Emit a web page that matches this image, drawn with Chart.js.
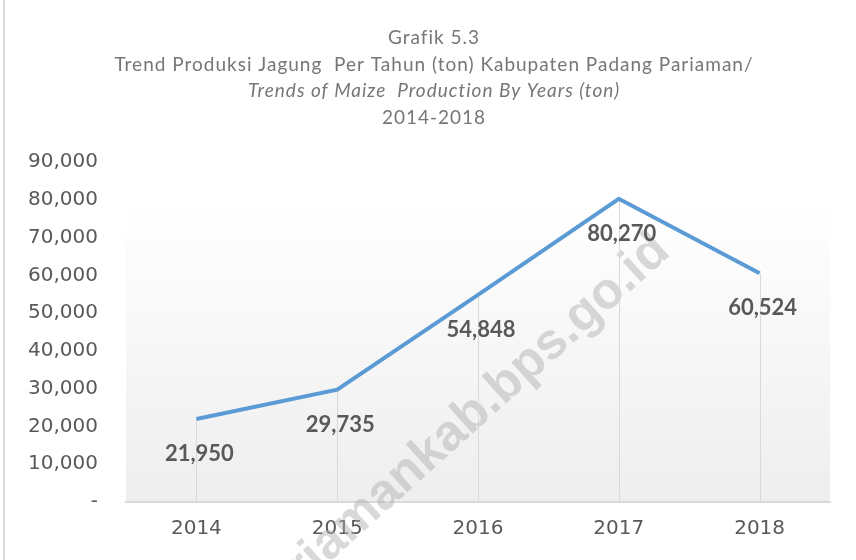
<!DOCTYPE html>
<html>
<head>
    <meta charset="UTF-8">
    <title>Grafik 5.3</title>
    <script src="https://cdn.jsdelivr.net/npm/chart.js"></script>
    <style>
        html, body { margin: 0; padding: 0; background: #fff; }
        #wrap { width: 856px; height: 560px; }
    </style>
</head>
<body>
    <div id="wrap"><canvas id="grafik"></canvas></div>

    <script>
        const tahun = ["2014", "2015", "2016", "2017", "2018"];
        const produksi = [21950, 29735, 54848, 80270, 60524];
        const judul = [
            { teks: "Grafik 5.3", miring: false },
            { teks: "Trend Produksi Jagung  Per Tahun (ton) Kabupaten Padang Pariaman/", miring: false },
            { teks: "Trends of Maize  Production By Years (ton)", miring: true },
            { teks: "2014-2018", miring: false }
        ];
        const watermark = "padangpariamankab.bps.go.id";

        const abu = "#595959";

        // latar area plot, garis border kiri, judul, watermark
        const latarPlugin = {
            id: "latar",
            beforeDraw(chart) {
                const { ctx, chartArea: a } = chart;
                ctx.save();
                const g = ctx.createLinearGradient(0, a.top, 0, a.bottom);
                g.addColorStop(0, "#ffffff");
                g.addColorStop(0.12, "#ffffff");
                g.addColorStop(1, "#eeeeee");
                ctx.fillStyle = g;
                ctx.fillRect(a.left, a.top, a.right - a.left, a.bottom - a.top);

                ctx.strokeStyle = "#d9d9d9";
                ctx.lineWidth = 2;
                ctx.beginPath();
                ctx.moveTo(4, 0);
                ctx.lineTo(4, chart.height);
                ctx.stroke();

                ctx.fillStyle = "#767676";
                ctx.textAlign = "center";
                ctx.textBaseline = "middle";
                ctx.letterSpacing = "1px";
                judul.forEach((j, i) => {
                    ctx.font = (j.miring ? "italic " : "") + "19px Lato";
                    ctx.fillText(j.teks, 434, 38 + i * 26.5);
                });
                ctx.restore();
            },
            beforeDatasetsDraw(chart) {
                const { ctx, chartArea: a } = chart;
                ctx.save();
                ctx.translate(672, 254);
                ctx.rotate(-42 * Math.PI / 180);
                ctx.fillStyle = "rgba(170,170,170,0.45)";
                ctx.font = "bold 51px 'Liberation Sans'";
                ctx.textAlign = "right";
                ctx.textBaseline = "alphabetic";
                ctx.fillText(watermark, 0, 0);
                ctx.restore();

                // garis vertikal dari titik ke sumbu
                const meta = chart.getDatasetMeta(0);
                ctx.save();
                ctx.strokeStyle = "#d9d9d9";
                ctx.lineWidth = 1;
                meta.data.forEach(p => {
                    ctx.beginPath();
                    ctx.moveTo(Math.round(p.x) + 0.5, p.y);
                    ctx.lineTo(Math.round(p.x) + 0.5, a.bottom);
                    ctx.stroke();
                });
                ctx.restore();
            },
            afterDatasetsDraw(chart) {
                const { ctx } = chart;
                const meta = chart.getDatasetMeta(0);
                ctx.save();
                ctx.fillStyle = abu;
                ctx.font = "bold 22px Lato";
                ctx.textAlign = "center";
                ctx.textBaseline = "middle";
                meta.data.forEach((p, i) => {
                    ctx.fillText(produksi[i].toLocaleString("en-US"), p.x + 3, p.y + 35);
                });
                ctx.restore();
            }
        };

        new Chart(document.getElementById("grafik"), {
            type: "line",
            data: {
                labels: tahun,
                datasets: [{
                    data: produksi,
                    borderColor: "#5b9bd5",
                    borderWidth: 4,
                    pointRadius: 0,
                    tension: 0,
                    fill: false
                }]
            },
            options: {
                responsive: true,
                maintainAspectRatio: false,
                animation: false,
                layout: { padding: { top: 162, right: 26, left: 0, bottom: 0 } },
                plugins: {
                    legend: { display: false },
                    title: { display: false },
                    tooltip: { enabled: false }
                },
                scales: {
                    x: {
                        offset: true,
                        grid: { display: false, drawTicks: false },
                        border: { color: "#d9d9d9", width: 2 },
                        ticks: {
                            color: abu,
                            font: { family: "DejaVu Sans", size: 20 },
                            padding: 15
                        },
                        afterFit(s) { s.height = 58; }
                    },
                    y: {
                        min: 0,
                        max: 90000,
                        grid: { display: false, drawTicks: false },
                        border: { display: false },
                        ticks: {
                            stepSize: 10000,
                            color: abu,
                            font: { family: "DejaVu Sans", size: 20 },
                            padding: 28,
                            callback: v => v === 0 ? "-" : v.toLocaleString("en-US")
                        },
                        afterFit(s) { s.width = 126; }
                    }
                }
            },
            plugins: [latarPlugin]
        });
    </script>
</body>
</html>
